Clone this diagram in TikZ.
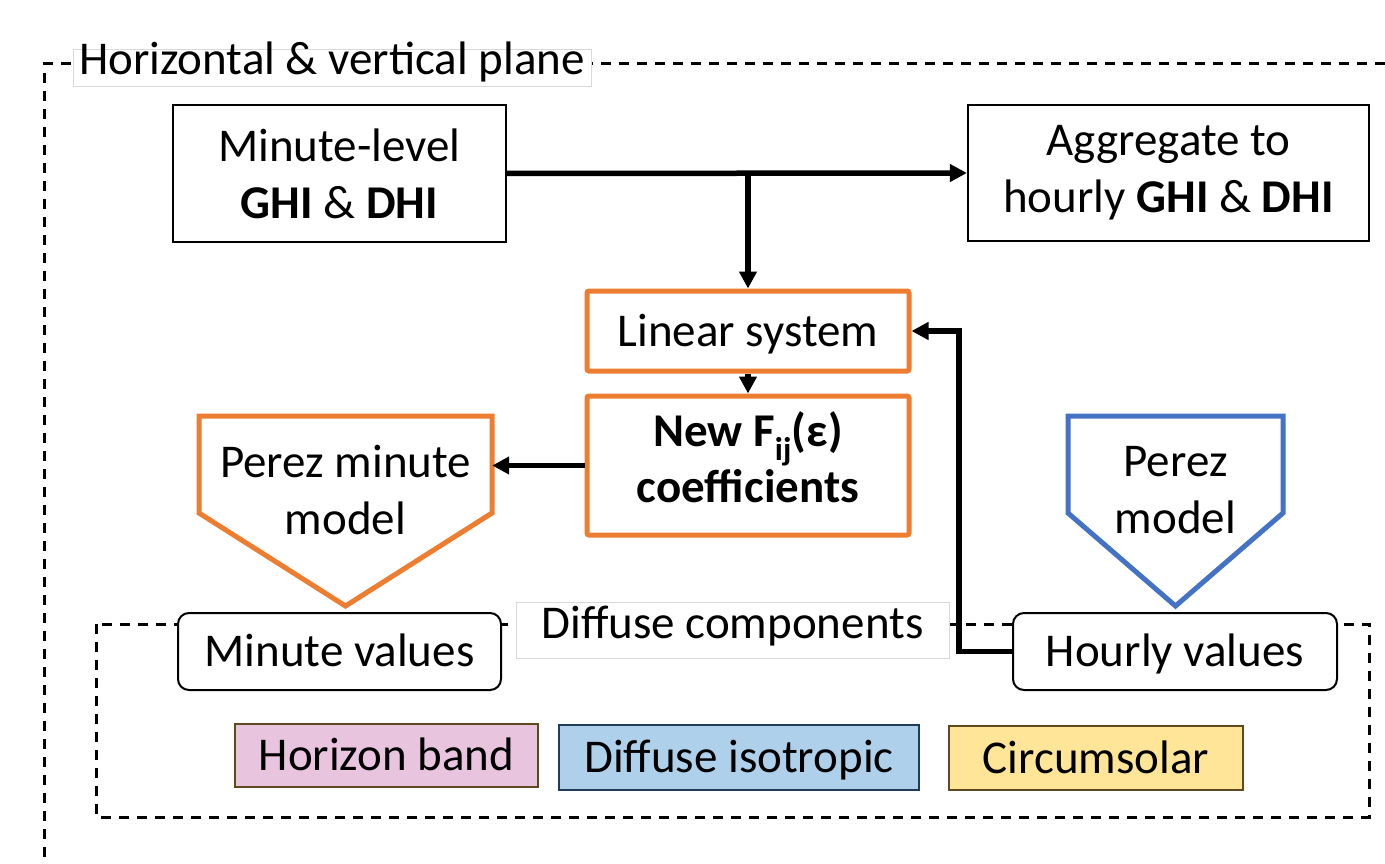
\documentclass[tikz,border=0pt]{standalone}
\usepackage{fontspec}
\setmainfont{Carlito}
\usepackage{xcolor}
\usepackage{tikz}
\usetikzlibrary{arrows.meta,positioning}

\definecolor{perezorange}{HTML}{ED7D31}
\definecolor{perezblue}{HTML}{4472C4}
\definecolor{hbfill}{HTML}{E9C4DE}
\definecolor{isofill}{HTML}{AED0EA}
\definecolor{csfill}{HTML}{FFE597}
\definecolor{brownline}{HTML}{5E4A1E}
\definecolor{navyline}{HTML}{1F3D5A}

\begin{document}
\begin{tikzpicture}[
    x=1pt, y=-1pt,
    every node/.style={font=\fontsize{47}{57}\selectfont, align=center, inner sep=0pt},
    oneline/.style={text height=30pt, text depth=0pt},
    plainbox/.style={draw, line width=2.2pt, fill=white},
    orangebox/.style={draw=perezorange, line width=5pt, rounded corners=2pt, fill=white},
    valuebox/.style={draw, line width=2pt, rounded corners=11pt, fill=white, oneline},
    tagbox/.style={draw=black!15, line width=1pt, fill=white},
    compbox/.style={line width=2.8pt, oneline},
    frame/.style={dashed, dash pattern=on 10pt off 8pt, line width=3pt},
    arr/.style={line width=5.5pt, -{Triangle[length=17pt,width=17pt]}}
]
\useasboundingbox (0,0) rectangle (1385,864);

% outer frame, only its top and left sides are on the page
\draw[frame] (1385,64) -- (44,64) -- (44,864);
\node[tagbox, minimum width=518, minimum height=37, text height=25pt, text depth=12pt] (plane) at (332,68.5) {Horizontal \& vertical plane};

% inner frame
\draw[frame] (96,624) rectangle (1369,817);

% top row
\node[plainbox, minimum width=333, minimum height=137] (ghi) at (339.5,173.5) {Minute-level\\\textbf{GHI} \& \textbf{DHI}};
\node[plainbox, minimum width=401, minimum height=136] (agg) at (1168.5,173) {Aggregate to\\hourly \textbf{GHI} \& \textbf{DHI}};

% middle
\node[orangebox, oneline, minimum width=322, minimum height=80] (lin) at (748,331) {Linear system};
\node[orangebox, minimum width=322, minimum height=139, text height=80pt, text depth=7pt,
      font=\fontsize{47}{56}\selectfont\bfseries] (newf) at (748,465.5) {New F\textsubscript{ij}(ε)\\coefficients};

% Perez models (pentagons)
\draw[perezorange, line width=5pt] (199,416) -- (492,416) -- (492,513) -- (345.5,606) -- (199,513) -- cycle;
\node[minimum width=293] (pmin) at (345.5,490) {Perez minute\\model};
\draw[perezblue, line width=5pt] (1068,416) -- (1283,416) -- (1283,513) -- (1175.5,606) -- (1068,513) -- cycle;
\node[minimum width=215] (pmod) at (1175.5,490) {Perez\\model};

% diffuse components
\node[tagbox, minimum width=433, minimum height=56, text height=27pt, text depth=10pt] (diff) at (732.5,630) {Diffuse components};
\node[valuebox, minimum width=323, minimum height=77] (minv) at (339.5,651.5) {Minute values};
\node[valuebox, minimum width=324, minimum height=77] (hourv) at (1175,651.5) {Hourly values};

\node[compbox, draw=brownline, fill=hbfill, minimum width=303, minimum height=63] (hb) at (386.5,755.5) {Horizon band};
\node[compbox, draw=navyline, fill=isofill, minimum width=360, minimum height=65] (iso) at (739,757.5) {Diffuse isotropic};
\node[compbox, draw=brownline, fill=csfill, minimum width=294, minimum height=64] (cs) at (1096,758) {Circumsolar};

% connectors
\draw[arr] (ghi.east) -- (agg.west);
\draw[arr] (ghi.east -| lin.north) -- (lin.north);
\draw[arr] (lin.south) -- (newf.north);
\draw[arr] (newf.west) -- (newf.west -| pmin.east);
\draw[arr] (hourv.west) -- ++(-53,0) |- (lin.east);
\end{tikzpicture}
\end{document}
